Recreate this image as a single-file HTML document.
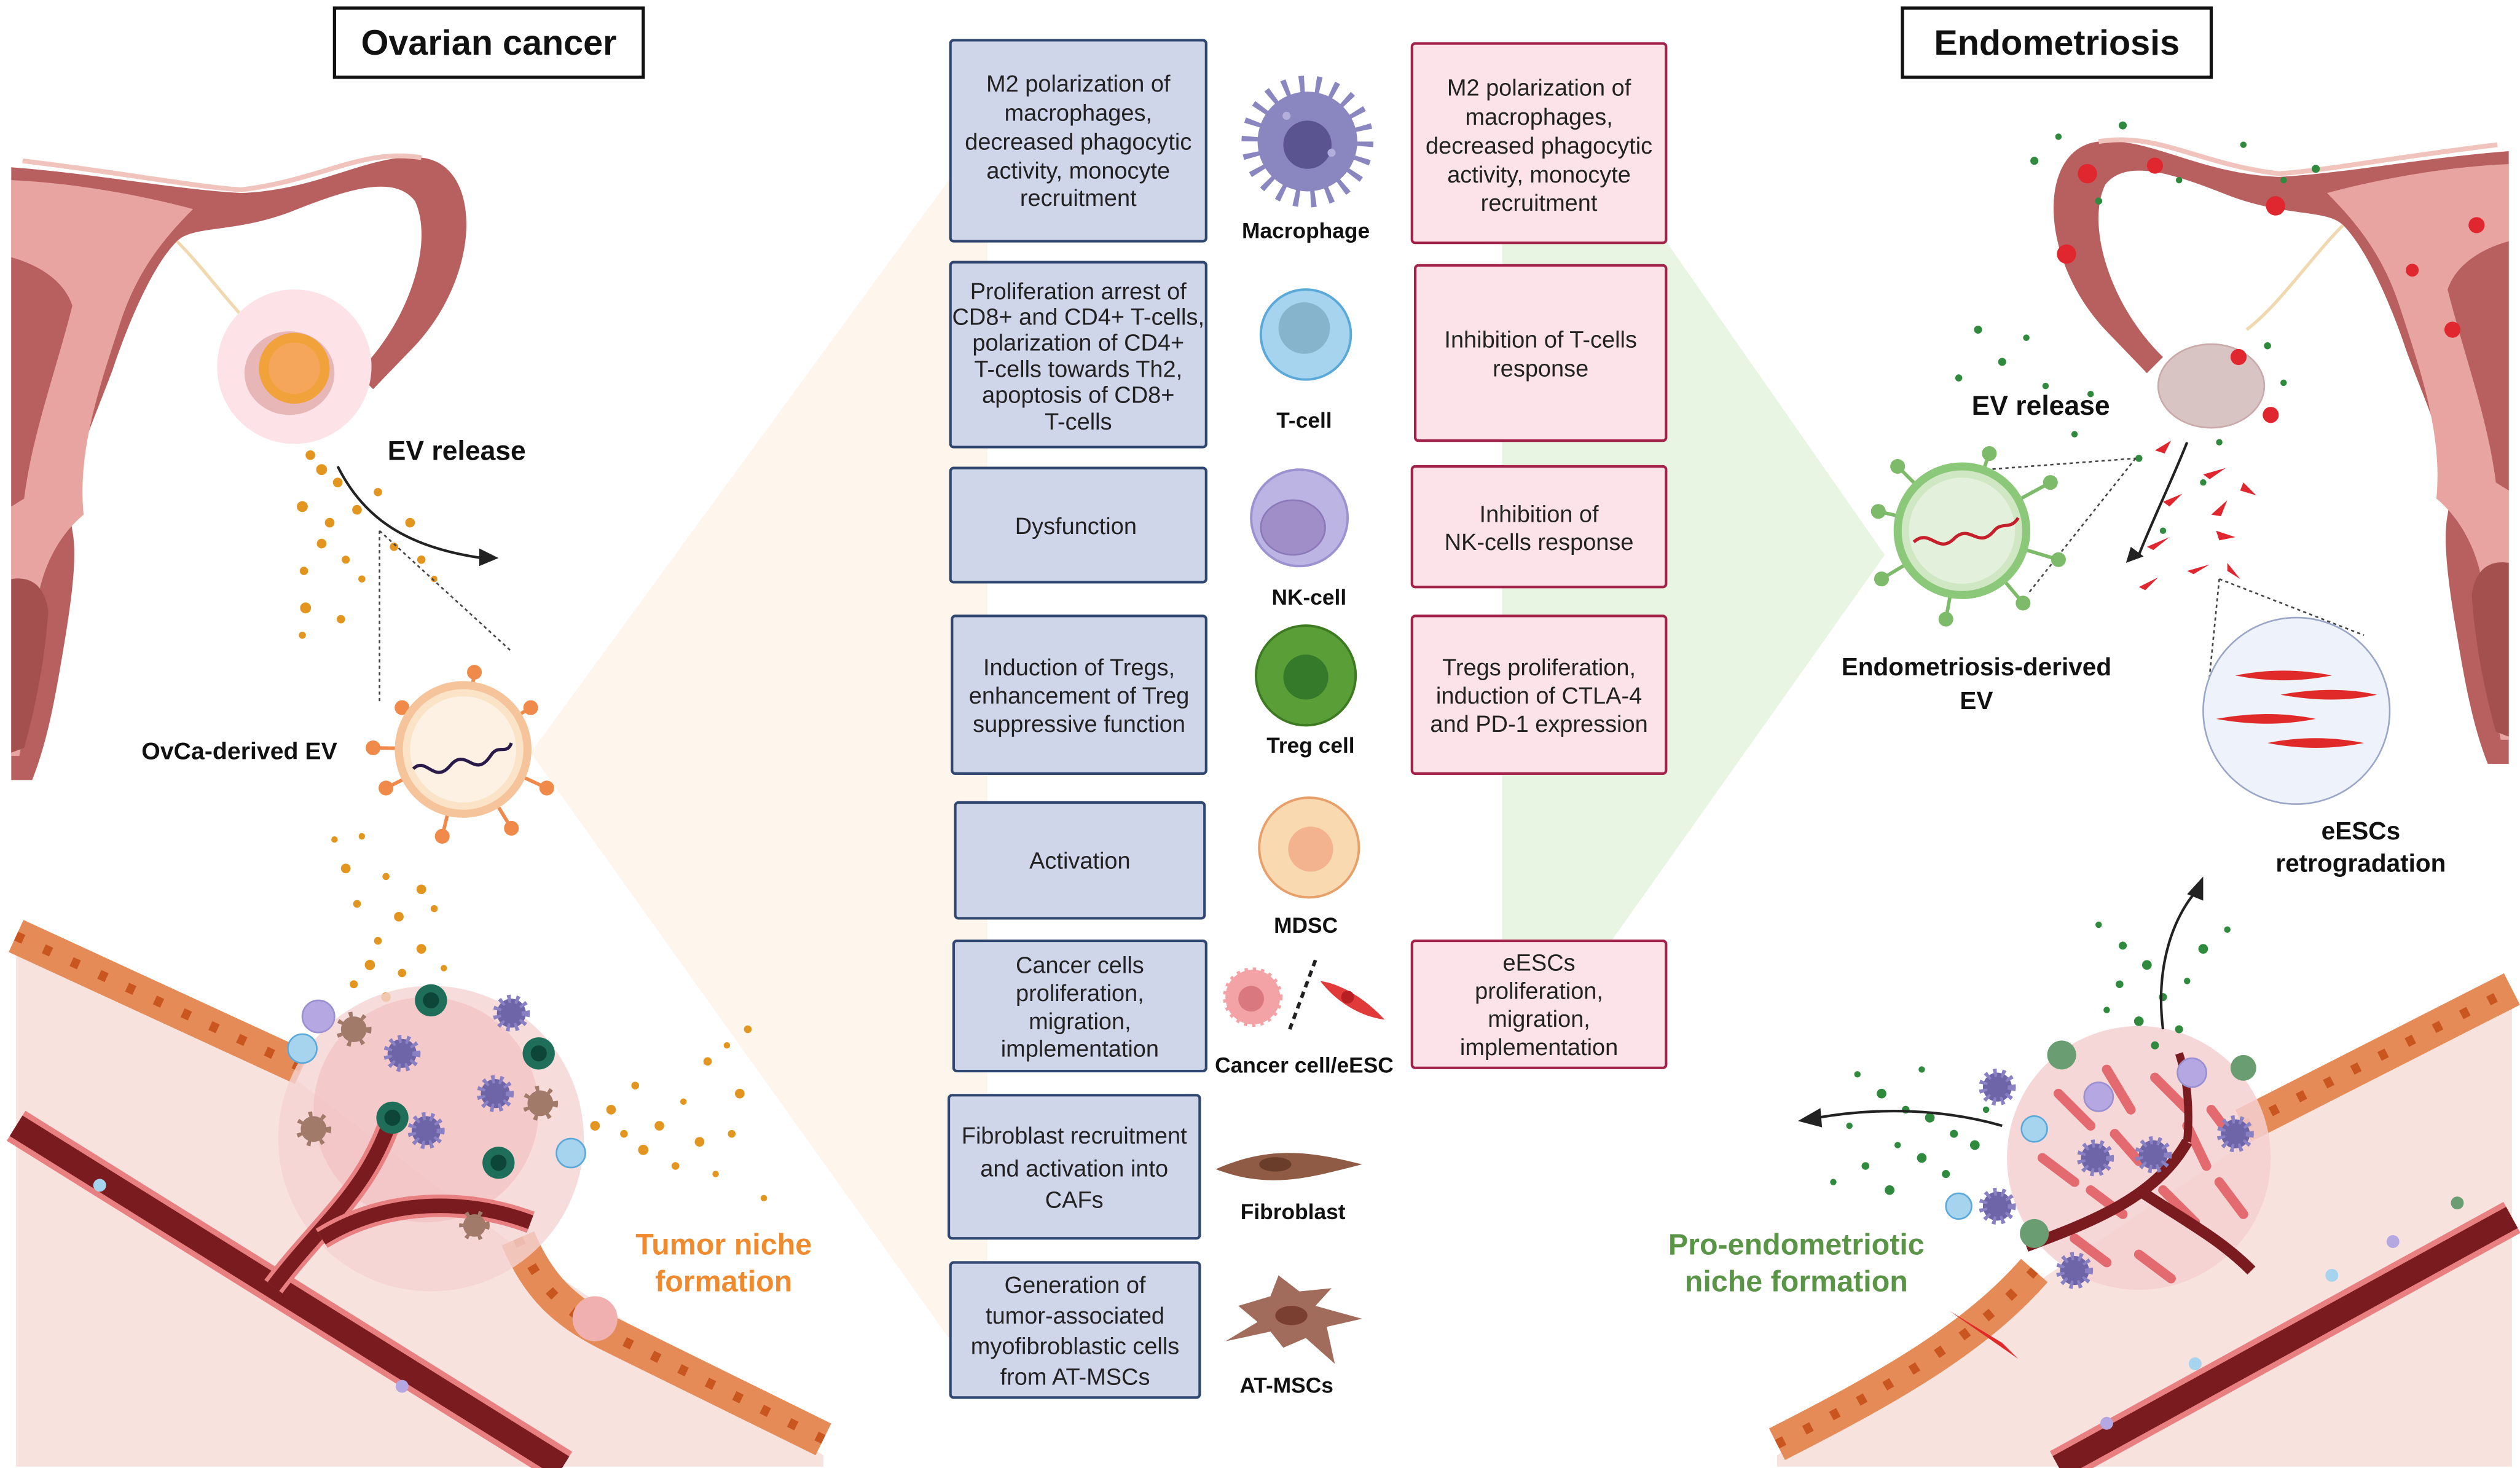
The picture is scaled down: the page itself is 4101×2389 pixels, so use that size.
<!DOCTYPE html>
<html><head><meta charset="utf-8">
<style>
html,body{margin:0;padding:0;background:#fff;}
svg{display:block;}
text{font-family:"Liberation Sans",sans-serif;}
.bt{font-size:14.5px;fill:#222;text-anchor:middle;}
.lb{font-size:13.5px;font-weight:bold;fill:#111;text-anchor:middle;}
.lbl{font-weight:bold;fill:#111;}
.L{fill:#d0d6ea;stroke:#2f4770;stroke-width:1.6;}
.R{fill:#fbe3e9;stroke:#a3224a;stroke-width:1.6;}
</style></head>
<body>
<svg width="4101" height="2389" viewBox="0 0 1567 912.8" preserveAspectRatio="none" xmlns="http://www.w3.org/2000/svg">
<rect width="1567" height="913" fill="#fff"/>
<!-- background wedges -->
<polygon points="330,468 590,112 614,100 614,850 590,832" fill="#fef5ec"/>
<polygon points="934,150 1036,150 1172,345 995,595 934,595" fill="#e9f5e3"/>

<!-- ===== LEFT ===== -->
<rect x="208" y="5" width="192" height="43" fill="#fff" stroke="#111" stroke-width="2"/>
<text x="304" y="34" class="lbl" font-size="22" text-anchor="middle">Ovarian cancer</text>

<g id="uterus">
<path d="M7,104 C60,108 110,118 150,120 C200,118 230,95 262,98 C300,102 300,170 258,215 L232,242 L222,232 C255,200 270,150 258,125 C245,108 215,118 180,132 C145,145 120,140 110,150 C95,165 80,200 70,230 C55,270 40,300 45,330 C48,345 45,370 40,400 C35,430 30,460 20,485 L7,485 Z" fill="#b8605f"/>
<path d="M7,112 C50,114 90,122 120,130 C100,150 85,170 75,200 C62,240 48,280 52,320 C40,330 30,345 25,365 C22,400 18,440 12,470 L7,470 Z" fill="#e7a4a0"/>
<path d="M7,160 C25,165 40,175 45,190 C35,230 20,270 15,310 L7,315 Z" fill="#b8605f"/>
<path d="M7,360 C20,358 28,365 30,380 C28,410 22,440 15,465 L7,468 Z" fill="#a3504f"/>
<path d="M14,100 C80,108 120,116 150,118 C200,112 225,92 262,98" fill="none" stroke="#f0c4bd" stroke-width="3"/>
<path d="M110,150 C130,170 150,200 170,215" fill="none" stroke="#f0d8b0" stroke-width="2"/>
</g>
<circle cx="183" cy="228" r="48" fill="#fde3e8"/>
<ellipse cx="180" cy="232" rx="28" ry="26" fill="#e7b6b6"/>
<circle cx="183" cy="229" r="22" fill="#f2a23a"/>
<circle cx="183" cy="229" r="16" fill="#f5a65a"/>
<!-- EV release dots -->
<g fill="#e2951f">
<circle cx="193" cy="283" r="3"/><circle cx="200" cy="292" r="3.4"/><circle cx="210" cy="300" r="3"/><circle cx="188" cy="315" r="3.4"/><circle cx="205" cy="325" r="3"/><circle cx="222" cy="317" r="3"/><circle cx="235" cy="306" r="2.6"/><circle cx="255" cy="325" r="3"/><circle cx="200" cy="338" r="3"/><circle cx="215" cy="348" r="2.5"/><circle cx="189" cy="355" r="2.6"/><circle cx="245" cy="340" r="2.6"/><circle cx="262" cy="348" r="2.6"/><circle cx="190" cy="378" r="3.4"/><circle cx="212" cy="385" r="2.6"/><circle cx="188" cy="395" r="2.2"/><circle cx="270" cy="360" r="2"/><circle cx="225" cy="360" r="2.2"/>
</g>
<path d="M210,290 C225,320 250,340 300,347" fill="none" stroke="#222" stroke-width="1.6"/>
<polygon points="298,341 310,347 298,352" fill="#222"/>
<text x="241" y="286" class="lbl" font-size="17">EV release</text>
<line x1="236" y1="330" x2="236" y2="438" stroke="#444" stroke-width="1" stroke-dasharray="2,2"/>
<line x1="236" y1="330" x2="318" y2="405" stroke="#444" stroke-width="1" stroke-dasharray="2,2"/>
<!-- OvCa EV -->
<g stroke="#f08a4a" stroke-width="2.2" fill="#f08a4a">
<line x1="288" y1="466" x2="250" y2="440"/><line x1="288" y1="466" x2="330" y2="440"/><line x1="288" y1="466" x2="340" y2="490"/><line x1="288" y1="466" x2="240" y2="490"/><line x1="288" y1="466" x2="275" y2="520"/><line x1="288" y1="466" x2="318" y2="515"/><line x1="288" y1="466" x2="295" y2="418"/>
<circle cx="250" cy="440" r="3.5"/><circle cx="330" cy="440" r="3.5"/><circle cx="340" cy="490" r="3.5"/><circle cx="240" cy="490" r="3.5"/><circle cx="275" cy="520" r="3.5"/><circle cx="318" cy="515" r="3.5"/><circle cx="295" cy="418" r="3.5"/><circle cx="232" cy="465" r="3.5"/><line x1="288" y1="466" x2="232" y2="465"/>
</g>
<circle cx="288" cy="466" r="40" fill="#fbe3c8" stroke="#f5c49a" stroke-width="5"/>
<circle cx="288" cy="466" r="33" fill="#fdf1e3"/>
<path d="M257,478 C265,470 270,488 280,476 C290,464 295,485 305,470 C310,462 315,470 318,462" fill="none" stroke="#2a1a4a" stroke-width="2"/>
<text x="88" y="472" class="lbl" font-size="15">OvCa-derived EV</text>
<!-- lower dots -->
<g fill="#e2951f">
<circle cx="208" cy="522" r="2"/><circle cx="225" cy="520" r="2"/><circle cx="215" cy="540" r="3"/><circle cx="240" cy="545" r="2.2"/><circle cx="262" cy="553" r="3"/><circle cx="222" cy="562" r="2.4"/><circle cx="248" cy="570" r="3"/><circle cx="270" cy="565" r="2.2"/><circle cx="235" cy="585" r="2.4"/><circle cx="262" cy="590" r="3"/><circle cx="230" cy="600" r="3.2"/><circle cx="250" cy="605" r="2.6"/><circle cx="276" cy="602" r="2"/><circle cx="240" cy="620" r="3"/><circle cx="220" cy="612" r="2.5"/><circle cx="268" cy="625" r="2"/>
<circle cx="380" cy="690" r="3"/><circle cx="395" cy="675" r="2.4"/><circle cx="410" cy="700" r="3"/><circle cx="425" cy="685" r="2"/><circle cx="400" cy="715" r="3.2"/><circle cx="435" cy="710" r="3"/><circle cx="455" cy="705" r="2.4"/><circle cx="420" cy="725" r="2.4"/><circle cx="445" cy="730" r="2"/><circle cx="465" cy="640" r="2.4"/><circle cx="460" cy="680" r="3"/><circle cx="388" cy="705" r="2.4"/><circle cx="370" cy="700" r="3"/><circle cx="475" cy="745" r="2"/><circle cx="452" cy="650" r="2"/><circle cx="440" cy="660" r="2.6"/>
</g>
<!-- left tissue -->
<polygon points="10,592 185,672 330,782 512,905 512,912 10,912" fill="#f8e2dd"/>
<path d="M10,582 L188,664" stroke="#e58b57" stroke-width="22" fill="none"/>
<path d="M10,582 L188,664" stroke="#c9551f" stroke-width="6" stroke-dasharray="5,14" fill="none"/>
<path d="M322,770 C335,800 350,815 380,830 L512,895" stroke="#e58b57" stroke-width="22" fill="none"/>
<path d="M322,770 C335,800 350,815 380,830 L512,895" stroke="#c9551f" stroke-width="6" stroke-dasharray="5,14" fill="none"/>
<circle cx="268" cy="708" r="95" fill="#f5d3d3" opacity="0.8"/>
<circle cx="265" cy="690" r="70" fill="#f2c0c0" opacity="0.7"/>
<circle cx="370" cy="820" r="14" fill="#f0b0b0"/>
<!-- vessel -->
<path d="M10,700 L350,912" stroke="#e87f80" stroke-width="22" fill="none"/>
<path d="M10,700 L350,912" stroke="#7a1b1f" stroke-width="15" fill="none"/>
<path d="M170,800 C200,760 230,740 245,690" stroke="#e87f80" stroke-width="14" fill="none"/>
<path d="M170,800 C200,760 230,740 245,690" stroke="#7a1b1f" stroke-width="9" fill="none"/>
<path d="M200,770 C240,745 290,745 330,760" stroke="#e87f80" stroke-width="14" fill="none"/>
<path d="M200,770 C240,745 290,745 330,760" stroke="#7a1b1f" stroke-width="9" fill="none"/>
<!-- tumor cells -->
<g>
<circle cx="198" cy="632" r="10" fill="#b5a8e2" stroke="#9a8fd0"/>
<circle cx="188" cy="652" r="9" fill="#a6d3ee" stroke="#5aa9d8"/>
<circle cx="268" cy="622" r="10" fill="#1f6e5a"/><circle cx="268" cy="622" r="5" fill="#0d4538"/>
<circle cx="335" cy="655" r="10" fill="#1f6e5a"/><circle cx="335" cy="655" r="5" fill="#0d4538"/>
<circle cx="244" cy="695" r="10" fill="#1f6e5a"/><circle cx="244" cy="695" r="5" fill="#0d4538"/>
<circle cx="310" cy="723" r="10" fill="#1f6e5a"/><circle cx="310" cy="723" r="5" fill="#0d4538"/>
<circle cx="355" cy="717" r="9" fill="#a6d3ee" stroke="#5aa9d8"/>
<circle cx="318" cy="630" r="9" fill="#6e64a8" stroke="#8a80c4" stroke-width="5" stroke-dasharray="2,3"/>
<circle cx="250" cy="655" r="9" fill="#6e64a8" stroke="#8a80c4" stroke-width="5" stroke-dasharray="2,3"/>
<circle cx="308" cy="680" r="9" fill="#6e64a8" stroke="#8a80c4" stroke-width="5" stroke-dasharray="2,3"/>
<circle cx="265" cy="703" r="9" fill="#6e64a8" stroke="#8a80c4" stroke-width="5" stroke-dasharray="2,3"/>
<circle cx="220" cy="640" r="8" fill="#a17a6a" stroke="#a17a6a" stroke-width="6" stroke-dasharray="2,5"/>
<circle cx="195" cy="702" r="8" fill="#a17a6a" stroke="#a17a6a" stroke-width="6" stroke-dasharray="2,5"/>
<circle cx="336" cy="686" r="8" fill="#a17a6a" stroke="#a17a6a" stroke-width="6" stroke-dasharray="2,5"/>
<circle cx="295" cy="762" r="7" fill="#a17a6a" stroke="#a17a6a" stroke-width="5" stroke-dasharray="2,5"/>
<circle cx="62" cy="737" r="4" fill="#a6d3ee"/><circle cx="250" cy="862" r="4" fill="#b5a8e2"/>
</g>
<text x="450" y="780" font-size="18.5" font-weight="bold" fill="#ef8a2e" text-anchor="middle">Tumor niche</text>
<text x="450" y="803" font-size="18.5" font-weight="bold" fill="#ef8a2e" text-anchor="middle">formation</text>

<!-- ===== CENTER ===== -->
<rect class="L" x="591" y="25" width="159" height="125" rx="2"/>
<text class="bt"><tspan x="670.5" y="57">M2 polarization of</tspan><tspan x="670.5" y="75">macrophages,</tspan><tspan x="670.5" y="93">decreased phagocytic</tspan><tspan x="670.5" y="111">activity, monocyte</tspan><tspan x="670.5" y="128">recruitment</tspan></text>
<rect class="L" x="591" y="163" width="159" height="115" rx="2"/>
<text class="bt" font-size="14"><tspan x="670.5" y="186">Proliferation arrest of</tspan><tspan x="670.5" y="202">CD8+ and CD4+ T-cells,</tspan><tspan x="670.5" y="218">polarization of CD4+</tspan><tspan x="670.5" y="234.5">T-cells towards Th2,</tspan><tspan x="670.5" y="250.5">apoptosis of CD8+</tspan><tspan x="670.5" y="267">T-cells</tspan></text>
<rect class="L" x="591" y="291" width="159" height="71" rx="2"/>
<text class="bt" x="669" y="332">Dysfunction</text>
<rect class="L" x="592" y="383" width="158" height="98" rx="2"/>
<text class="bt"><tspan x="671" y="420">Induction of Tregs,</tspan><tspan x="671" y="437.5">enhancement of Treg</tspan><tspan x="671" y="455">suppressive function</tspan></text>
<rect class="L" x="594" y="499" width="155" height="72" rx="2"/>
<text class="bt" x="671.5" y="540">Activation</text>
<rect class="L" x="593" y="585" width="157" height="81" rx="2"/>
<text class="bt"><tspan x="671.5" y="605">Cancer cells</tspan><tspan x="671.5" y="622.5">proliferation,</tspan><tspan x="671.5" y="640">migration,</tspan><tspan x="671.5" y="657">implementation</tspan></text>
<rect class="L" x="590" y="681" width="156" height="89" rx="2"/>
<text class="bt" font-size="15.2"><tspan x="668" y="711">Fibroblast recruitment</tspan><tspan x="668" y="731.5">and activation into</tspan><tspan x="668" y="751">CAFs</tspan></text>
<rect class="L" x="591" y="785" width="155" height="84" rx="2"/>
<text class="bt" font-size="13.8"><tspan x="668.5" y="804">Generation of</tspan><tspan x="668.5" y="823">tumor-associated</tspan><tspan x="668.5" y="842">myofibroblastic cells</tspan><tspan x="668.5" y="861">from AT-MSCs</tspan></text>

<rect class="R" x="878" y="27" width="158" height="124" rx="2"/>
<text class="bt"><tspan x="957" y="59.5">M2 polarization of</tspan><tspan x="957" y="77.5">macrophages,</tspan><tspan x="957" y="95.5">decreased phagocytic</tspan><tspan x="957" y="113.5">activity, monocyte</tspan><tspan x="957" y="131">recruitment</tspan></text>
<rect class="R" x="880" y="165" width="156" height="109" rx="2"/>
<text class="bt"><tspan x="958" y="216">Inhibition of T-cells</tspan><tspan x="958" y="234">response</tspan></text>
<rect class="R" x="878" y="290" width="158" height="75" rx="2"/>
<text class="bt"><tspan x="957" y="324.5">Inhibition of</tspan><tspan x="957" y="342">NK-cells response</tspan></text>
<rect class="R" x="878" y="383" width="158" height="98" rx="2"/>
<text class="bt"><tspan x="957" y="420">Tregs proliferation,</tspan><tspan x="957" y="437.5">induction of CTLA-4</tspan><tspan x="957" y="455">and PD-1 expression</tspan></text>
<rect class="R" x="878" y="585" width="158" height="79" rx="2"/>
<text class="bt"><tspan x="957" y="603.5">eESCs</tspan><tspan x="957" y="621">proliferation,</tspan><tspan x="957" y="638.5">migration,</tspan><tspan x="957" y="656">implementation</tspan></text>

<!-- icons -->
<circle cx="813" cy="88" r="35" fill="none" stroke="#8a86c0" stroke-width="12" stroke-dasharray="3,7"/>
<circle cx="813" cy="88" r="31" fill="#8a86c0"/>
<circle cx="813" cy="90" r="15" fill="#5a5590"/>
<circle cx="800" cy="72" r="2.5" fill="#b3afdc"/><circle cx="828" cy="95" r="2.5" fill="#b3afdc"/>
<text class="lb" x="812" y="148">Macrophage</text>
<circle cx="812" cy="208" r="28" fill="#a6d3ee" stroke="#5aa9d8" stroke-width="1.5"/>
<circle cx="811" cy="204" r="16" fill="#85b4cc"/>
<text class="lb" x="811" y="266">T-cell</text>
<circle cx="808" cy="322" r="30" fill="#bcb5e4" stroke="#9c92d0" stroke-width="1.5"/>
<ellipse cx="804" cy="328" rx="20" ry="17" fill="#a08ec8" stroke="#8a78b8"/>
<text class="lb" x="814" y="376">NK-cell</text>
<circle cx="812" cy="420" r="31" fill="#5a9e38" stroke="#3d7a22" stroke-width="1.5"/>
<circle cx="812" cy="421" r="14" fill="#357a2a"/>
<text class="lb" x="815" y="468">Treg cell</text>
<circle cx="814" cy="527" r="31" fill="#f9d9b0" stroke="#e8a06a" stroke-width="1.5"/>
<circle cx="815" cy="528" r="14" fill="#f2b38e"/>
<text class="lb" x="812" y="580">MDSC</text>
<circle cx="779" cy="620" r="17" fill="#f3a3a5" stroke="#f3a3a5" stroke-width="3" stroke-dasharray="2,3"/>
<circle cx="778" cy="621" r="8" fill="#d9797f"/>
<line x1="818" y1="597" x2="802" y2="640" stroke="#222" stroke-width="2.2" stroke-dasharray="4,3"/>
<path d="M821,610 C835,612 850,622 861,634 C845,632 830,622 821,610 Z" fill="#e03a3a"/>
<circle cx="838" cy="620" r="4" fill="#b71f22"/>
<text class="lb" x="811" y="667">Cancer cell/eESC</text>
<path d="M756,727 C790,712 815,716 847,724 C815,732 790,740 756,727 Z" fill="#8f5b44"/>
<ellipse cx="793" cy="724" rx="10" ry="4.5" fill="#6a3d2b"/>
<text class="lb" x="804" y="758">Fibroblast</text>
<path d="M770,812 L790,806 L795,793 L808,803 L828,801 L818,812 L847,820 L825,825 L830,848 L812,832 L798,838 L790,828 L762,834 L782,822 Z" fill="#a26c5c"/>
<ellipse cx="803" cy="818" rx="10" ry="6" fill="#7a3f31"/>
<text class="lb" x="800" y="866">AT-MSCs</text>

<!-- ===== RIGHT ===== -->
<rect x="1183" y="5" width="192" height="43" fill="#fff" stroke="#111" stroke-width="2"/>
<text x="1279" y="34" class="lbl" font-size="22" text-anchor="middle">Endometriosis</text>
<g transform="translate(1567,-10) scale(-1,1)">
<use href="#uterus"/>
</g>
<ellipse cx="1375" cy="240" rx="33" ry="26" fill="#d9c4c4" stroke="#c9a9a9"/>
<g fill="#e0262e">
<circle cx="1298" cy="108" r="6"/><circle cx="1340" cy="103" r="5"/><circle cx="1415" cy="128" r="6"/><circle cx="1285" cy="158" r="6"/><circle cx="1412" cy="258" r="5"/><circle cx="1392" cy="222" r="5"/><circle cx="1525" cy="205" r="5"/><circle cx="1500" cy="168" r="4"/><circle cx="1540" cy="140" r="5"/>
<path d="M1340,280 l10,-6 l-4,8 z"/><path d="M1370,295 l14,-4 l-10,7 z"/><path d="M1395,300 l8,8 l-10,-3 z"/><path d="M1345,312 l12,-5 l-8,8 z"/><path d="M1375,320 l10,-9 l-4,10 z"/><path d="M1335,340 l14,-6 l-10,8 z"/><path d="M1378,330 l12,4 l-10,2z"/><path d="M1330,365 l12,-6 l-8,8 z"/><path d="M1360,355 l14,-4 l-10,6 z"/><path d="M1385,350 l8,10 l-8,-5 z"/>
</g>
<g fill="#2f8a3e">
<circle cx="1320" cy="78" r="2.5"/><circle cx="1265" cy="100" r="2.5"/><circle cx="1355" cy="112" r="2"/><circle cx="1305" cy="125" r="2.2"/><circle cx="1395" cy="90" r="2"/><circle cx="1420" cy="112" r="2"/><circle cx="1440" cy="105" r="2.5"/><circle cx="1280" cy="85" r="2"/><circle cx="1230" cy="205" r="2.5"/><circle cx="1260" cy="210" r="2"/><circle cx="1245" cy="225" r="2.5"/><circle cx="1218" cy="235" r="2.2"/><circle cx="1272" cy="240" r="2"/><circle cx="1300" cy="245" r="2"/><circle cx="1410" cy="215" r="2.2"/><circle cx="1420" cy="238" r="2"/><circle cx="1370" cy="300" r="2"/><circle cx="1345" cy="330" r="2"/><circle cx="1330" cy="285" r="2.2"/><circle cx="1290" cy="270" r="2"/><circle cx="1380" cy="275" r="2"/>
</g>
<path d="M1360,275 C1350,300 1340,320 1330,345" fill="none" stroke="#222" stroke-width="1.6"/>
<polygon points="1325,340 1322,350 1333,346" fill="#222"/>
<text x="1226" y="258" class="lbl" font-size="17">EV release</text>
<line x1="1235" y1="292" x2="1328" y2="285" stroke="#444" stroke-width="1" stroke-dasharray="2,2"/>
<line x1="1262" y1="368" x2="1328" y2="285" stroke="#444" stroke-width="1" stroke-dasharray="2,2"/>
<!-- endometriosis EV -->
<g stroke="#7dbb6a" stroke-width="2.2" fill="#7dbb6a">
<line x1="1220" y1="330" x2="1168" y2="318"/><line x1="1220" y1="330" x2="1180" y2="290"/><line x1="1220" y1="330" x2="1237" y2="282"/><line x1="1220" y1="330" x2="1275" y2="300"/><line x1="1220" y1="330" x2="1280" y2="348"/><line x1="1220" y1="330" x2="1258" y2="375"/><line x1="1220" y1="330" x2="1210" y2="385"/><line x1="1220" y1="330" x2="1170" y2="360"/>
<circle cx="1168" cy="318" r="3.5"/><circle cx="1180" cy="290" r="3.5"/><circle cx="1237" cy="282" r="3.5"/><circle cx="1275" cy="300" r="3.5"/><circle cx="1280" cy="348" r="3.5"/><circle cx="1258" cy="375" r="3.5"/><circle cx="1210" cy="385" r="3.5"/><circle cx="1170" cy="360" r="3.5"/>
</g>
<circle cx="1220" cy="330" r="40" fill="#cfe7c3" stroke="#8cc87a" stroke-width="5"/>
<circle cx="1220" cy="330" r="33" fill="#e3f1dc"/>
<path d="M1190,337 C1200,328 1205,345 1215,335 C1225,325 1230,342 1240,330 C1245,324 1250,330 1255,322" fill="none" stroke="#c41f2a" stroke-width="2"/>
<text x="1229" y="420" class="lbl" font-size="15.5" text-anchor="middle">Endometriosis-derived</text>
<text x="1229" y="441" class="lbl" font-size="15.5" text-anchor="middle">EV</text>
<!-- inset circle -->
<line x1="1380" y1="360" x2="1372" y2="440" stroke="#444" stroke-width="1" stroke-dasharray="2,2"/>
<line x1="1380" y1="360" x2="1470" y2="395" stroke="#444" stroke-width="1" stroke-dasharray="2,2"/>
<circle cx="1428" cy="442" r="58" fill="#eef2fa" stroke="#9aa6c8" stroke-width="1"/>
<g fill="#e02a2a">
<path d="M1390,420 C1410,416 1430,416 1450,420 C1430,424 1410,424 1390,420Z"/>
<path d="M1418,432 C1440,428 1460,428 1478,432 C1460,436 1440,436 1418,432Z"/>
<path d="M1378,447 C1400,443 1420,443 1440,447 C1420,451 1400,451 1378,447Z"/>
<path d="M1410,462 C1430,458 1450,458 1470,462 C1450,466 1430,466 1410,462Z"/>
</g>
<text x="1468" y="522" class="lbl" font-size="15.5" text-anchor="middle">eESCs</text>
<text x="1468" y="542" class="lbl" font-size="15.5" text-anchor="middle">retrogradation</text>
<!-- right tissue -->
<polygon points="1105,905 1255,805 1400,708 1562,622 1562,912 1105,912" fill="#f8e2dd"/>
<path d="M1105,898 C1180,860 1230,830 1265,790" stroke="#e58b57" stroke-width="22" fill="none"/>
<path d="M1105,898 C1180,860 1230,830 1265,790" stroke="#c9551f" stroke-width="6" stroke-dasharray="5,14" fill="none"/>
<path d="M1395,700 L1562,615" stroke="#e58b57" stroke-width="22" fill="none"/>
<path d="M1395,700 L1562,615" stroke="#c9551f" stroke-width="6" stroke-dasharray="5,14" fill="none"/>
<path d="M1280,912 L1562,757" stroke="#e87f80" stroke-width="22" fill="none"/>
<path d="M1280,912 L1562,757" stroke="#7a1b1f" stroke-width="15" fill="none"/>
<circle cx="1330" cy="720" r="82" fill="#f5d0d0" opacity="0.85"/>
<g stroke="#e36a6e" stroke-width="6" stroke-linecap="round">
<line x1="1280" y1="680" x2="1300" y2="700"/><line x1="1310" y1="665" x2="1325" y2="690"/><line x1="1340" y1="670" x2="1360" y2="690"/><line x1="1375" y1="690" x2="1390" y2="710"/><line x1="1270" y1="720" x2="1290" y2="735"/><line x1="1300" y1="740" x2="1320" y2="755"/><line x1="1345" y1="740" x2="1365" y2="760"/><line x1="1380" y1="735" x2="1395" y2="755"/><line x1="1290" y1="770" x2="1310" y2="785"/><line x1="1330" y1="780" x2="1350" y2="795"/><line x1="1360" y1="700" x2="1372" y2="725"/><line x1="1315" y1="705" x2="1330" y2="722"/>
</g>
<path d="M1260,775 C1300,760 1340,745 1360,710 M1330,740 C1360,760 1380,770 1400,790" stroke="#7a1b1f" stroke-width="7" fill="none"/>
<path d="M1360,710 C1362,690 1360,670 1355,655" stroke="#7a1b1f" stroke-width="5" fill="none"/>
<g>
<circle cx="1242" cy="676" r="9" fill="#6e64a8" stroke="#8a80c4" stroke-width="5" stroke-dasharray="2,3"/>
<circle cx="1242" cy="750" r="9" fill="#6e64a8" stroke="#8a80c4" stroke-width="5" stroke-dasharray="2,3"/>
<circle cx="1303" cy="720" r="9" fill="#6e64a8" stroke="#8a80c4" stroke-width="5" stroke-dasharray="2,3"/>
<circle cx="1339" cy="718" r="9" fill="#6e64a8" stroke="#8a80c4" stroke-width="5" stroke-dasharray="2,3"/>
<circle cx="1390" cy="705" r="9" fill="#6e64a8" stroke="#8a80c4" stroke-width="5" stroke-dasharray="2,3"/>
<circle cx="1290" cy="790" r="9" fill="#6e64a8" stroke="#8a80c4" stroke-width="5" stroke-dasharray="2,3"/>
<circle cx="1305" cy="682" r="9" fill="#b5a8e2" stroke="#9a8fd0"/>
<circle cx="1363" cy="667" r="9" fill="#b5a8e2" stroke="#9a8fd0"/>
<circle cx="1265" cy="702" r="8" fill="#a6d3ee" stroke="#5aa9d8"/>
<circle cx="1218" cy="750" r="8" fill="#a6d3ee" stroke="#5aa9d8"/>
<circle cx="1282" cy="656" r="9" fill="#6a9e72"/>
<circle cx="1395" cy="664" r="8" fill="#6a9e72"/>
<circle cx="1265" cy="767" r="9" fill="#6a9e72"/>
<circle cx="1528" cy="748" r="4" fill="#6a9e72"/><circle cx="1488" cy="772" r="4" fill="#b5a8e2"/><circle cx="1450" cy="793" r="4" fill="#a6d3ee"/><circle cx="1365" cy="848" r="4" fill="#a6d3ee"/><circle cx="1310" cy="885" r="4" fill="#b5a8e2"/>
</g>
<path d="M1245,835 L1212,815 L1255,845 Z" fill="#e02a2a"/>
<g fill="#2f8a3e">
<circle cx="1155" cy="668" r="2"/><circle cx="1170" cy="680" r="3"/><circle cx="1185" cy="690" r="2.4"/><circle cx="1200" cy="695" r="3"/><circle cx="1215" cy="705" r="2.5"/><circle cx="1228" cy="712" r="3"/><circle cx="1180" cy="712" r="2"/><circle cx="1195" cy="720" r="3"/><circle cx="1160" cy="725" r="2.4"/><circle cx="1210" cy="730" r="2.5"/><circle cx="1140" cy="735" r="2"/><circle cx="1175" cy="740" r="3"/><circle cx="1235" cy="690" r="2"/><circle cx="1150" cy="700" r="2"/><circle cx="1195" cy="665" r="2"/>
<circle cx="1305" cy="575" r="2"/><circle cx="1320" cy="588" r="2.5"/><circle cx="1335" cy="600" r="3"/><circle cx="1318" cy="612" r="2.4"/><circle cx="1345" cy="620" r="2.5"/><circle cx="1330" cy="635" r="3"/><circle cx="1360" cy="610" r="2"/><circle cx="1355" cy="640" r="2.5"/><circle cx="1310" cy="628" r="2"/><circle cx="1340" cy="650" r="2.5"/><circle cx="1370" cy="590" r="3"/><circle cx="1385" cy="578" r="2"/>
</g>
<path d="M1345,640 C1340,600 1352,570 1365,555" fill="none" stroke="#222" stroke-width="1.6"/>
<polygon points="1360,556 1370,545 1370,560" fill="#222"/>
<path d="M1245,700 C1210,690 1170,688 1130,695" fill="none" stroke="#222" stroke-width="1.6"/>
<polygon points="1132,689 1118,697 1133,701" fill="#222"/>
<text x="1117" y="780" font-size="18.5" font-weight="bold" fill="#5a9447" text-anchor="middle">Pro-endometriotic</text>
<text x="1117" y="803" font-size="18.5" font-weight="bold" fill="#5a9447" text-anchor="middle">niche formation</text>
</svg>
</body></html>
